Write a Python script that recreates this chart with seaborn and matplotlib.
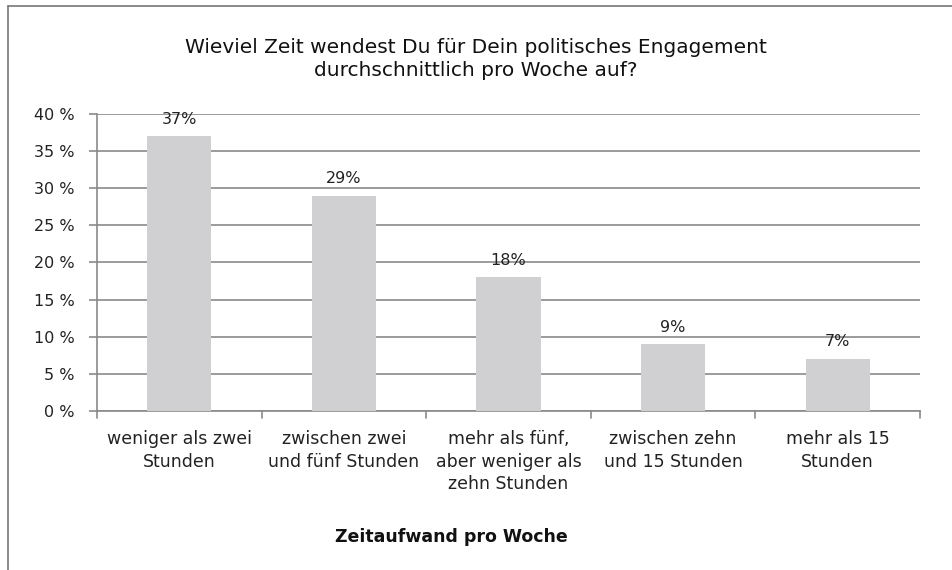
import matplotlib
matplotlib.use("Agg")
import matplotlib.pyplot as plt
import seaborn as sns
import pandas as pd
from matplotlib.lines import Line2D

categories = ["weniger als zwei\nStunden", "zwischen zwei\nund fünf Stunden",
              "mehr als fünf,\naber weniger als\nzehn Stunden",
              "zwischen zehn\nund 15 Stunden", "mehr als 15\nStunden"]
values = [37, 29, 18, 9, 7]
yticks = [0, 5, 10, 15, 20, 25, 30, 35, 40]
title = "Wieviel Zeit wendest Du für Dein politisches Engagement\ndurchschnittlich pro Woche auf?"
xlabel = "Zeitaufwand pro Woche"

sns.set_theme(style="white")
plt.rcParams['font.family'] = ['DejaVu Sans']

df = pd.DataFrame({"cat": categories, "val": values})

fig = plt.figure(figsize=(9.53, 5.7), dpi=100)
ax = fig.add_axes([0.1018, 0.279, 0.8636, 0.521])
sns.barplot(data=df, x="cat", y="val", color="#d0d0d2", width=0.39, ax=ax,
            saturation=1, linewidth=0, zorder=3)

ax.set_ylim(0, 40)
ax.set_xlim(-0.5, len(categories) - 0.5)
ax.set_yticks(yticks)
ax.set_yticklabels([f"{t} %" for t in yticks], fontsize=11.5, color="#222222")
ax.yaxis.grid(True, color="#8a8a8a", linewidth=1.2, zorder=0)
ax.set_axisbelow(True)

ax.set_xticks(range(len(categories)))
ax.set_xticklabels(categories, fontsize=12.5, color="#222222", linespacing=1.3)
ax.tick_params(axis="x", length=0, pad=14)
# category boundary ticks
for b in [i - 0.5 for i in range(len(categories) + 1)]:
    ax.plot([b, b], [0, -0.9], color="#8a8a8a", lw=1.2, clip_on=False, zorder=4)
ax.tick_params(axis="y", length=6, color="#8a8a8a", width=1.2, left=True, pad=10)

for s in ["top", "right"]:
    ax.spines[s].set_visible(False)
for s in ["left", "bottom"]:
    ax.spines[s].set_color("#8a8a8a")
    ax.spines[s].set_linewidth(1.2)

for i, v in enumerate(values):
    ax.text(i, v + 1.3, f"{v}%", ha="center", va="bottom", fontsize=11.5, color="#222222")

ax.set_xlabel("")
ax.set_ylabel("")

fig.text(0.4995, 0.897, title, ha="center", va="center", fontsize=14.5,
         color="#111111", linespacing=1.25)
fig.text(0.474, 0.058, xlabel, ha="center", va="center", fontsize=12.5,
         fontweight="bold", color="#111111")

# frame lines (top and left)
fig.add_artist(Line2D([0.0085, 1.0], [0.989, 0.989], transform=fig.transFigure,
                      color="#777777", lw=1.2))
fig.add_artist(Line2D([0.0085, 0.0085], [0.0, 0.989], transform=fig.transFigure,
                      color="#777777", lw=1.2))

fig.savefig("out.png", dpi=100)
